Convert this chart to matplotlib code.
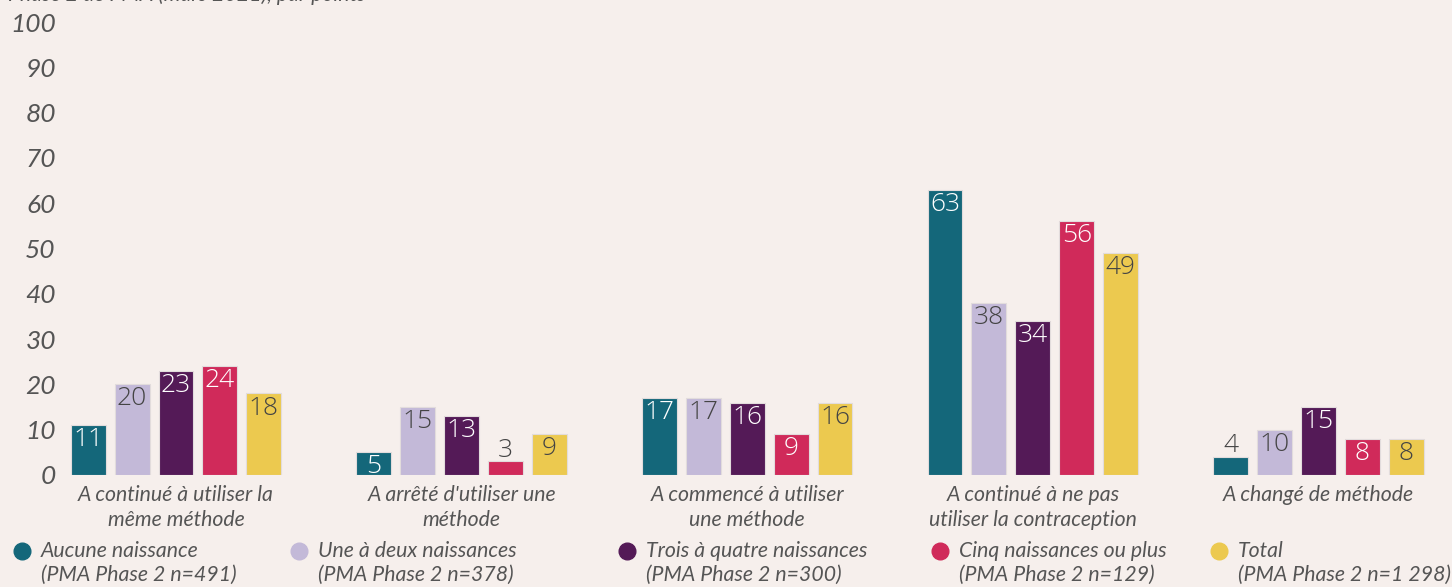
import matplotlib.pyplot as plt
import numpy as np

categories = ["A continué à utiliser la\nmême méthode",
              "A arrêté d'utiliser une\nméthode",
              "A commencé à utiliser\nune méthode",
              "A continué à ne pas\nutiliser la contraception",
              "A changé de méthode"]
series = ["Aucune naissance\n(PMA Phase 2 n=491)",
          "Une à deux naissances\n(PMA Phase 2 n=378)",
          "Trois à quatre naissances\n(PMA Phase 2 n=300)",
          "Cinq naissances ou plus\n(PMA Phase 2 n=129)",
          "Total\n(PMA Phase 2 n=1 298)"]
values = [[11, 5, 17, 63, 4],
          [20, 15, 17, 38, 10],
          [23, 13, 16, 34, 15],
          [24, 3, 9, 56, 8],
          [18, 9, 16, 49, 8]]
colors = ['#14677a', '#c3b9d8', '#541a57', '#d02a5a', '#ecc94f']
label_colors = ['white', '#444444', 'white', 'white', '#444444']
yticks = [0, 10, 20, 30, 40, 50, 60, 70, 80, 90, 100]

bg = '#f6efec'
grey = '#555555'
W, H = 1452, 587

fig = plt.figure(figsize=(W / 100, H / 100), dpi=100, facecolor=bg)
ax = fig.add_axes([60 / W, 112 / H, 1 - 60 / W, 453 / H])
ax.set_facecolor(bg)

x = np.arange(len(categories))
pitch = 0.1537
width = 0.1225
for j, vals in enumerate(values):
    pos = x + (j - 2) * pitch
    ax.bar(pos, vals, width, color=colors[j], edgecolor='#e2dcdc', linewidth=0.8)
    for px, v in zip(pos, vals):
        if v < 5:
            ax.annotate(str(v), (px, v), xytext=(0, -1), textcoords='offset points',
                        ha='center', va='bottom', fontsize=19, color='#444444',
                        family='Open Sans', fontweight='light')
        else:
            ax.annotate(str(v), (px, v), xytext=(0, -1.5), textcoords='offset points',
                        ha='center', va='top', fontsize=19, color=label_colors[j],
                        family='Open Sans', fontweight='light')

ax.set_xlim((60 - 176) / 285.6, (W - 176) / 285.6)
ax.set_ylim(0, 100)
ax.set_yticks(yticks)
ax.set_yticklabels([str(t) for t in yticks], fontsize=19, color=grey,
                   family='Lato', style='italic')
ax.set_xticks(x)
ax.set_xticklabels(categories, fontsize=15.3, color=grey, family='Lato',
                   style='italic', linespacing=1.35)
ax.tick_params(axis='both', length=0)
ax.tick_params(axis='x', pad=7)
ax.tick_params(axis='y', pad=3)
for s in ax.spines.values():
    s.set_visible(False)

# legend
leg_x = [22, 299, 627, 940, 1219]
for j, name in enumerate(series):
    fig.lines.append(plt.Line2D([leg_x[j] / W], [(H - 551) / H], marker='o',
                                markersize=12, color=colors[j], linestyle='none',
                                transform=fig.transFigure))
    fig.text((leg_x[j] + 19) / W, (H - 541) / H, name, fontsize=15.3, color=grey,
             family='Lato', style='italic', va='top', linespacing=1.25)

fig.text(8 / W, (H - 1) / H, "Phase 2 de PMA (mars 2021), par points", fontsize=15.3,
         color=grey, family='Lato', style='italic', va='baseline')

fig.savefig('out.png', dpi=100, facecolor=bg)
